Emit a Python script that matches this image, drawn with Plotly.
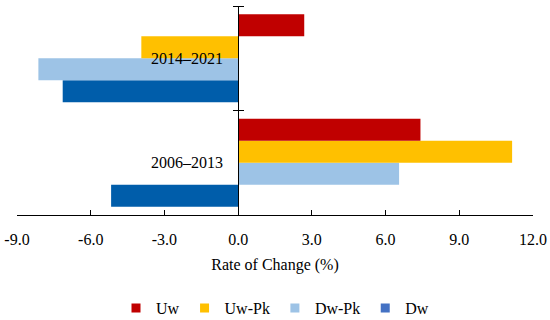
import plotly.graph_objects as go

categories = ["2006–2013", "2014–2021"]
series_names = ["Uw", "Uw-Pk", "Dw-Pk", "Dw"]
uw = [7.42, 2.69]
uw_pk = [11.15, -3.94]
dw_pk = [6.55, -8.13]
dw = [-5.17, -7.14]
bar_colors = ["#C00000", "#FFC000", "#9DC3E6", "#005DAA"]
legend_colors = ["#C00000", "#FFC000", "#9DC3E6", "#4472C4"]
x_tickvals = [-9, -6, -3, 0, 3, 6, 9, 12]
x_ticktext = ["-9.0", "-6.0", "-3.0", "0.0", "3.0", "6.0", "9.0", "12.0"]

values = [uw, uw_pk, dw_pk, dw]
FONT = "Liberation Serif"

fig = go.Figure()
# bars: add bottom-most first (Dw) so Uw ends on top in each group
for name, vals, col in reversed(list(zip(series_names, values, bar_colors))):
    fig.add_trace(go.Bar(
        x=vals, y=categories, orientation="h", name=name,
        marker=dict(color=col, line=dict(width=0)), showlegend=False,
    ))
# invisible helper on the overlay axis (gives the crossing ticks)
fig.add_trace(go.Scatter(
    x=[None, None], y=categories, yaxis="y2", mode="markers",
    showlegend=False, hoverinfo="skip",
))
# legend entries
for name, col in zip(series_names, legend_colors):
    fig.add_trace(go.Scatter(
        x=[None], y=[None], mode="markers", name=name,
        marker=dict(symbol="square", size=9, color=col),
    ))

fig.update_layout(
    width=550, height=320,
    margin=dict(l=17, r=17, t=6, b=105, autoexpand=False),
    paper_bgcolor="white", plot_bgcolor="white",
    barmode="group", bargap=0.16, bargroupgap=0,
    font=dict(family=FONT, size=16, color="black"),
    legend=dict(orientation="h", x=0.5, xanchor="center",
                yref="container", y=0.037, yanchor="middle",
                font=dict(size=16), itemwidth=30, tracegroupgap=0),
    xaxis=dict(
        range=[-9, 12], tickvals=x_tickvals, ticktext=x_ticktext,
        ticks="inside", ticklen=5, tickcolor="black", tickwidth=1,
        showline=True, linecolor="black", linewidth=1,
        showgrid=False, zeroline=False, automargin=False,
        ticklabelstandoff=10,
        title=dict(text="Rate of Change (%)", standoff=11, font=dict(size=16)),
        tickfont=dict(size=16),
    ),
    yaxis=dict(
        categoryorder="array", categoryarray=categories,
        range=[-0.5, 1.5],
        anchor="free", position=9/21, side="left",
        ticks="outside", ticklen=5, tickcolor="black", tickwidth=1,
        tickson="boundaries", automargin=False,
        showline=True, linecolor="black", linewidth=1,
        showgrid=False, zeroline=False,
        ticklabelstandoff=12,
        tickfont=dict(size=16),
    ),
    yaxis2=dict(
        type="category", categoryorder="array", categoryarray=categories,
        range=[-0.5, 1.5], overlaying="y",
        anchor="free", position=9/21, side="right",
        ticks="outside", ticklen=5, tickcolor="black", tickwidth=1,
        tickson="boundaries", automargin=False,
        showline=False, showgrid=False, zeroline=False,
        showticklabels=False,
    ),
)

fig.write_html("out.html", config={"displayModeBar": False},
               post_script="document.body.style.margin='0';")
